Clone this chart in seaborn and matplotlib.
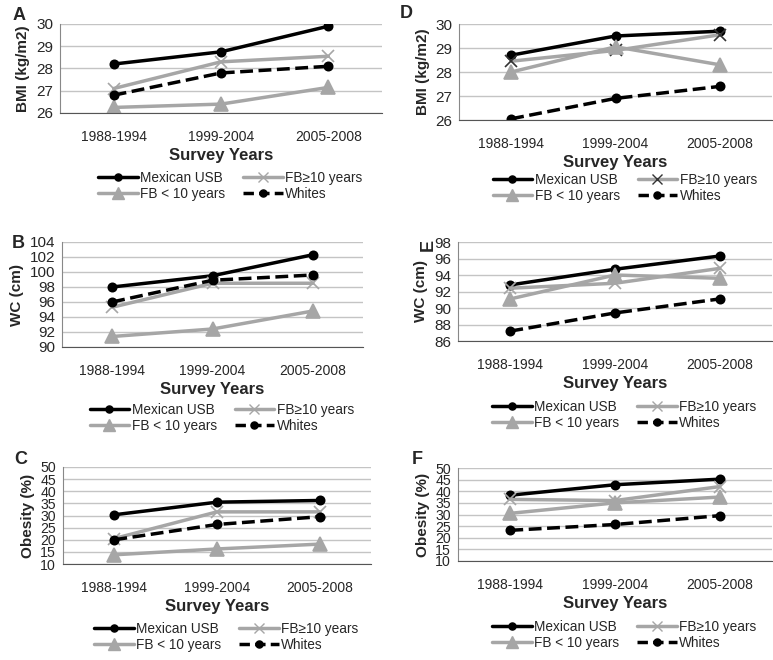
import pandas as pd
import numpy as np
import matplotlib
matplotlib.use("Agg")
import matplotlib.pyplot as plt
import seaborn as sns
from matplotlib.lines import Line2D

# Survey periods and groups
periods = ["1988-1994", "1999-2004", "2005-2008"]
groups = ["Mexican USB", "FB\u226510 years", "FB < 10 years", "Whites"]

# Men (left column)
bmi_men = {
    "Mexican USB": [28.2, 28.75, 29.9],
    "FB\u226510 years": [27.1, 28.3, 28.55],
    "FB < 10 years": [26.25, 26.4, 27.15],
    "Whites": [26.8, 27.8, 28.1],
}
wc_men = {
    "Mexican USB": [98.0, 99.5, 102.3],
    "FB\u226510 years": [95.3, 98.5, 98.5],
    "FB < 10 years": [91.4, 92.4, 94.8],
    "Whites": [96.0, 98.9, 99.6],
}
obese_men = {
    "Mexican USB": [30.3, 35.5, 36.2],
    "FB\u226510 years": [20.5, 31.5, 31.5],
    "FB < 10 years": [13.8, 16.2, 18.2],
    "Whites": [20.0, 26.3, 29.5],
}
# Women (right column)
bmi_women = {
    "Mexican USB": [28.7, 29.5, 29.7],
    "FB\u226510 years": [28.45, 28.9, 29.55],
    "FB < 10 years": [28.0, 29.05, 28.3],
    "Whites": [26.05, 26.9, 27.4],
}
wc_women = {
    "Mexican USB": [92.8, 94.7, 96.3],
    "FB\u226510 years": [92.4, 93.0, 94.8],
    "FB < 10 years": [91.1, 94.0, 93.6],
    "Whites": [87.2, 89.4, 91.1],
}
obese_women = {
    "Mexican USB": [38.3, 42.8, 45.2],
    "FB\u226510 years": [36.5, 36.0, 42.0],
    "FB < 10 years": [30.5, 35.0, 37.5],
    "Whites": [23.2, 25.7, 29.5],
}

sns.set_style("white")
plt.rcParams["font.family"] = ["Liberation Sans", "DejaVu Sans"]

GRAY = "#a6a6a6"
styles = {
    "Mexican USB": dict(color="black", marker="o", ms=6, ls="-"),
    "FB\u226510 years": dict(color=GRAY, marker="x", ms=9, ls="-"),
    "FB < 10 years": dict(color=GRAY, marker="^", ms=10, ls="-"),
    "Whites": dict(color="black", marker="o", ms=6, ls="--"),
}

W, H = 773, 660
fig = plt.figure(figsize=(W / 100, H / 100), dpi=100)


def box(l, r, t, b):
    return [l / W, 1 - b / H, (r - l) / W, (b - t) / H]


panels = [
    # letter, data, ylabel, ylim, step, (l, r, t, b), legend y, letter pos, rotated letter, cross colour
    ("A", bmi_men, "BMI (kg/m2)", (26, 30), 1, (60, 382, 24, 113), 186, (13, 15), False, GRAY),
    ("D", bmi_women, "BMI (kg/m2)", (26, 30), 1, (459, 772, 24, 120), 188, (400, 14), False, "#333333"),
    ("B", wc_men, "WC (cm)", (90, 104), 2, (62, 363, 242, 347), 418, (12, 243), False, GRAY),
    ("E", wc_women, "WC (cm)", (86, 98), 2, (458, 772, 242, 341), 415, (420, 245), True, GRAY),
    ("C", obese_men, "Obesity (%)", (10, 50), 5, (63, 371, 467, 564), 637, (14, 459), False, GRAY),
    ("F", obese_women, "Obesity (%)", (10, 50), 5, (458, 772, 468, 561), 635, (412, 460), False, GRAY),
]

legend_order = ["Mexican USB", "FB < 10 years", "FB\u226510 years", "Whites"]

for letter, data, ylabel, ylim, step, (l, r, t, b), leg_y, (lx, ly), rot, xcol in panels:
    ax = fig.add_axes(box(l, r, t, b))
    df = pd.DataFrame(
        [(p, g, v) for g in groups for p, v in zip(periods, data[g])],
        columns=["period", "group", "value"],
    )
    for g in groups:
        st = styles[g]
        mcol = xcol if g == "FB\u226510 years" else st["color"]
        sns.lineplot(
            data=df[df["group"] == g], x="period", y="value", ax=ax,
            color=st["color"], linestyle=st["ls"], linewidth=2.5,
            marker=st["marker"], markersize=st["ms"], markeredgewidth=1.2,
            markeredgecolor=mcol, markerfacecolor=mcol, sort=False,
            dashes=False if st["ls"] == "-" else (3, 1.5),
        )
    ax.set_xlim(-0.5, 2.5)
    ax.set_ylim(*ylim)
    ax.set_yticks(np.arange(ylim[0], ylim[1] + step / 2, step))
    ax.set_xticks(range(3))
    ax.set_xticklabels(periods, fontsize=10)
    ax.set_xticks([-0.5, 0.5, 1.5, 2.5], minor=True)
    ax.tick_params(axis="x", which="major", length=0, pad=12)
    ax.tick_params(axis="x", which="minor", length=4, color="#555555", direction="out")
    ytick_size = 10.2 if step == 5 else 11
    ax.tick_params(axis="y", labelsize=ytick_size, length=3, color="#777777", pad=2)
    ax.grid(axis="y", color="#c4c4c4", linewidth=1)
    ax.set_axisbelow(True)
    for s in ["top", "right"]:
        ax.spines[s].set_visible(False)
    ax.spines["bottom"].set_color("#555555")
    ax.spines["left"].set_color("#888888")
    ax.set_xlabel("Survey Years", fontsize=12, fontweight="bold", labelpad=3)
    ax.set_ylabel(ylabel, fontsize=11, fontweight="bold", labelpad=4)
    if ax.get_legend() is not None:
        ax.get_legend().remove()

    fig.text(lx / W, 1 - ly / H, letter, fontsize=13, fontweight="bold",
             rotation=90 if rot else 0, ha="left", va="center")

    handles = []
    for g in legend_order:
        st = styles[g]
        mcol = xcol if g == "FB\u226510 years" else st["color"]
        handles.append(Line2D([], [], color=st["color"], linestyle=st["ls"], linewidth=2.5,
                              marker=st["marker"], markersize=st["ms"] * 0.85,
                              markerfacecolor=mcol, markeredgecolor=mcol,
                              dashes=(3, 1.5) if st["ls"] == "--" else (None, None)))
    cx = (l + r) / 2 / W
    fig.legend(handles, legend_order, ncol=2, frameon=False, fontsize=9.8,
               loc="center", bbox_to_anchor=(cx + 0.012, 1 - leg_y / H),
               handlelength=2.9, handletextpad=0.2, columnspacing=1.3,
               labelspacing=0.15, borderpad=0)

fig.savefig("out.png", dpi=100)
